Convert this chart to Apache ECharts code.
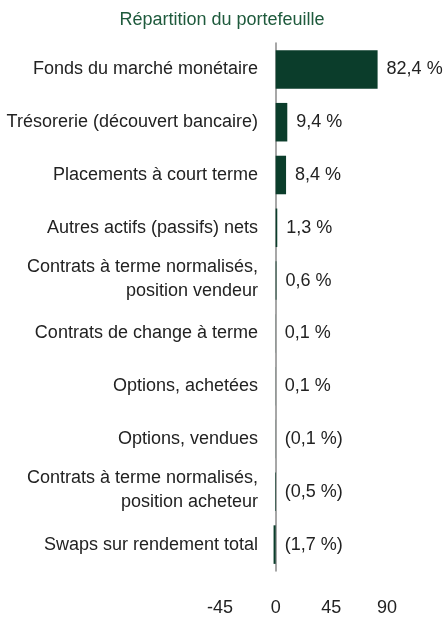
<!DOCTYPE html>
<html>
<head>
<meta charset="utf-8">
<script src="https://cdn.jsdelivr.net/npm/echarts@6/dist/echarts.min.js"></script>
<style>
  html, body { margin: 0; padding: 0; background: #fff; }
  #chart { width: 444px; height: 622px; }
</style>
</head>
<body>
<div id="chart"></div>
<script>
// données
const categories = [
  'Fonds du marché monétaire',
  'Trésorerie (découvert bancaire)',
  'Placements à court terme',
  'Autres actifs (passifs) nets',
  'Contrats à terme normalisés,\nposition vendeur',
  'Contrats de change à terme',
  'Options, achetées',
  'Options, vendues',
  'Contrats à terme normalisés,\nposition acheteur',
  'Swaps sur rendement total'
]
const values = [82.4, 9.4, 8.4, 1.3, 0.6, 0.1, 0.1, -0.1, -0.5, -1.7]
const axisMin = -45
const axisMax = 90
const axisStep = 45

function pct(v) {
  const s = Math.abs(v).toFixed(1).replace('.', ',') + ' %'
  return v < 0 ? '(' + s + ')' : s
}

const myChart = echarts.init(document.getElementById('chart'))
myChart.setOption({
  animation: false,
  textStyle: { fontFamily: 'Liberation Sans, Arial, sans-serif' },
  title: {
    text: 'Répartition du portefeuille',
    left: 'center',
    top: 6,
    textStyle: { color: '#1e5a3c', fontSize: 18, fontWeight: 'normal' }
  },
  grid: { left: 220, right: 57, top: 43, height: 528, containLabel: false, outerBoundsMode: 'none' },
  xAxis: {
    type: 'value',
    min: axisMin,
    max: axisMax,
    interval: axisStep,
    splitLine: { show: false },
    axisLine: { show: false },
    axisTick: { show: false },
    axisLabel: { color: '#222', fontSize: 18, margin: 28 }
  },
  yAxis: {
    type: 'category',
    data: categories,
    inverse: true,
    axisLine: { onZero: true, lineStyle: { color: '#8a8a8a', width: 1.5 } },
    axisTick: { show: false },
    // les libellés se placent depuis le bord gauche de la grille, on les ramène près du zéro
    axisLabel: {
      color: '#222',
      fontSize: 18,
      margin: -38,
      lineHeight: 24,
      align: 'right',
      formatter: v => v.indexOf('\n') > -1 ? '{two|' + v.replace('\n', '}\n{two|') + '}' : v,
      rich: { two: { fontSize: 18, lineHeight: 24, color: '#222', padding: [0, 0, 4, 0] } }
    }
  },
  series: [{
    type: 'bar',
    data: values,
    barWidth: '73%',
    itemStyle: { color: '#0b3d2b' },
    label: {
      show: true,
      position: 'right',
      distance: 9,
      color: '#222',
      fontSize: 18,
      formatter: p => pct(p.value)
    }
  }]
})
</script>
</body>
</html>
